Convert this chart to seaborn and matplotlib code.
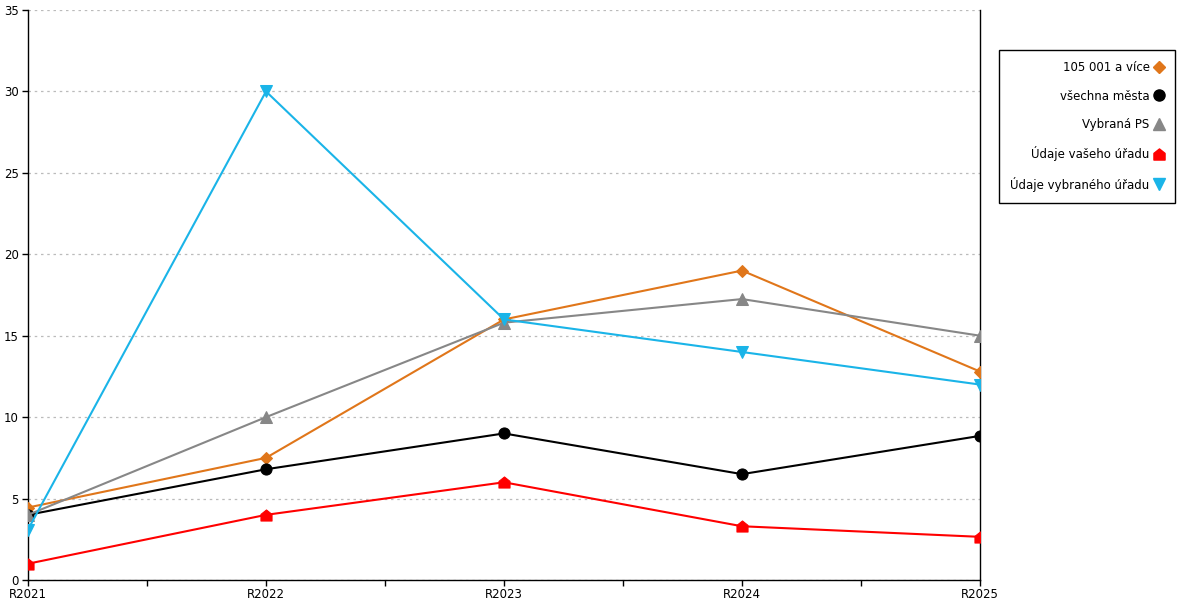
import pandas as pd
import matplotlib
matplotlib.use("Agg")
import matplotlib.pyplot as plt
import seaborn as sns
from matplotlib.lines import Line2D
from matplotlib.path import Path

# === Data ===
roky = ["R2021", "R2022", "R2023", "R2024", "R2025"]
serie = ["105 001 a více", "všechna města", "Vybraná PS",
         "Údaje vašeho úřadu", "Údaje vybraného úřadu"]
hodnoty_105001 = [4.45, 7.5, 16.0, 19.0, 12.8]
hodnoty_mesta = [4.0, 6.8, 9.0, 6.5, 8.85]
hodnoty_ps = [4.0, 10.0, 15.8, 17.25, 15.0]
hodnoty_vas = [1.0, 4.0, 6.0, 3.3, 2.65]
hodnoty_vybrany = [3.1, 30.0, 16.0, 14.0, 12.0]

barvy = ["#e0761a", "#000000", "#878787", "#ff0000", "#1ab4e8"]

# domecek marker pro "Údaje vašeho úřadu"
domek = Path([(-1, -1), (1, -1), (1, 0.2), (0, 1), (-1, 0.2), (-1, -1)],
             [Path.MOVETO, Path.LINETO, Path.LINETO, Path.LINETO,
              Path.LINETO, Path.CLOSEPOLY])
znacky = ["D", "o", "^", domek, "v"]
velikosti = [6, 8, 8, 8, 9]

data = pd.DataFrame({
    "rok": roky * 5,
    "serie": [s for s in serie for _ in roky],
    "hodnota": hodnoty_105001 + hodnoty_mesta + hodnoty_ps + hodnoty_vas + hodnoty_vybrany,
})

sns.set_style("white")
plt.rcParams["font.family"] = ["DejaVu Sans"]
plt.rcParams["text.color"] = "black"
plt.rcParams["xtick.color"] = "black"
plt.rcParams["ytick.color"] = "black"

fig = plt.figure(figsize=(12, 6), dpi=100)
ax = fig.add_axes([28 / 1200, 20 / 600, 952 / 1200, 570 / 600])

# poradi kresleni: spodni vrstvy prvni
poradi = [2, 0, 1, 3, 4]
for i in poradi:
    d = data[data["serie"] == serie[i]]
    sns.lineplot(data=d, x="rok", y="hodnota", ax=ax, color=barvy[i],
                 marker=znacky[i], markersize=velikosti[i],
                 markeredgecolor=barvy[i], linewidth=1.5, sort=False,
                 legend=False, zorder=3 + i)

ax.set_xlim(0, 4)
ax.set_ylim(0, 35)
ax.set_yticks(range(0, 36, 5))
ax.set_xticks([0.5, 1.5, 2.5, 3.5], minor=True)
ax.set_xlabel("")
ax.set_ylabel("")
ax.grid(axis="y", linestyle=(0, (2, 3)), color="#bbbbbb", linewidth=0.9)
ax.grid(axis="x", visible=False)

for s in ["left", "bottom", "right"]:
    ax.spines[s].set_visible(True)
    ax.spines[s].set_color("black")
    ax.spines[s].set_linewidth(1.0)
ax.spines["top"].set_visible(False)

ax.tick_params(axis="both", which="both", direction="out", length=4.5,
               width=1, labelsize=8.5, pad=1)
ax.tick_params(axis="x", which="both", bottom=True)
ax.tick_params(axis="y", left=True, pad=2)

# === Legenda ===
handles = [Line2D([], [], linestyle="none", marker=znacky[i], color=barvy[i],
                  markersize=velikosti[i], markeredgecolor=barvy[i])
           for i in range(5)]
leg = fig.legend(handles, serie, loc="upper right",
                 bbox_to_anchor=(1175 / 1200, 1 - 50 / 600),
                 borderaxespad=0, markerfirst=False, fontsize=8.5,
                 labelspacing=1.3, handlelength=0.8, handletextpad=0.4,
                 borderpad=0.95, fancybox=False, framealpha=1,
                 edgecolor="black", alignment="right")
leg.get_frame().set_linewidth(1.0)
for t in leg.get_texts():
    t.set_ha("right")

plt.savefig("out.png", dpi=100)
